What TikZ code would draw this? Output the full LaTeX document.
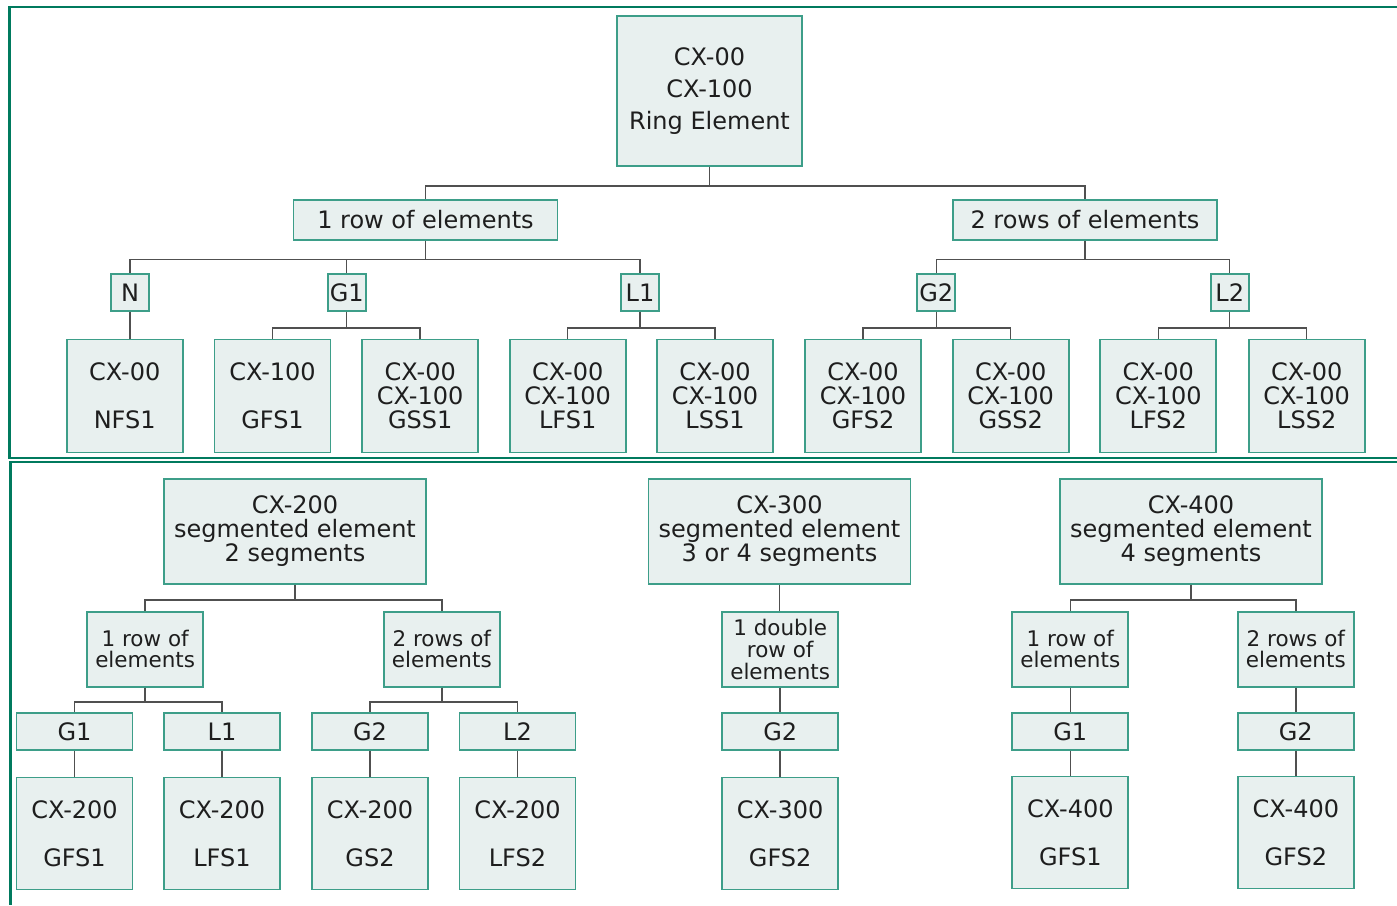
\documentclass[tikz,border=0pt]{standalone}
\usepackage{fontspec}
\setmainfont{DejaVu Sans}
\definecolor{framegreen}{HTML}{007A5E}
\definecolor{boxline}{HTML}{3D9E89}
\definecolor{boxfill}{HTML}{E8F0EF}
\definecolor{txt}{HTML}{1E1E1E}
\definecolor{conngray}{HTML}{505050}
\tikzset{
  box/.style={draw=boxline, fill=boxfill, line width=1.8pt, text=txt, align=center,
    inner sep=0pt, font=\fontsize{24}{24}\selectfont},
  smallbox/.style={box, font=\fontsize{21.5}{21}\selectfont},
  ringbox/.style={box, font=\fontsize{24}{32}\selectfont},
  cn/.style={draw=conngray, line width=1.5pt},
  frameline/.style={draw=framegreen, line width=2.5pt},
}
\newcommand{\bx}[7][box]{\node[#1, minimum width=#5pt, minimum height=#6pt] (#2) at (#3,#4) {#7};}
\newcommand{\fork}[3]{\foreach \c in {#3} {\draw[cn] (#1.south) -- (#1.south |- 0,#2) -| (\c.north);}}
\newcommand{\drop}[2]{\draw[cn] (#1.south) -- (#1.south |- #2.north);}
\begin{document}
\begin{tikzpicture}[x=1pt,y=-1pt]
\useasboundingbox (0,0) rectangle (1397,905);
% frame
\draw[frameline] (1397,7) -- (9.3,7) -- (9.3,459);
\draw[draw=framegreen, line width=2pt] (8.3,458.2) -- (1397,458.2);
\draw[draw=framegreen, line width=2pt] (9.3,461.7) -- (1397,461.7);
\draw[frameline] (10.3,461) -- (10.3,905);

% ---------- top section ----------
\bx[ringbox]{ring}{709.5}{91}{185}{150}{CX-00\\CX-100\\Ring Element}
\bx{rowA}{425.5}{220}{264}{40}{1 row of elements}
\bx{rowB}{1085}{220}{264}{40}{2 rows of elements}
\bx{tN}{130}{292.5}{38}{37}{N}
\bx{tGa}{346.7}{292.5}{38}{37}{G1}
\bx{tLa}{640}{292.5}{38}{37}{L1}
\bx{tGb}{936.3}{292.5}{38}{37}{G2}
\bx{tLb}{1229.7}{292.5}{38}{37}{L2}
\bx{lNFS}{124.7}{396}{116}{113}{CX-00\\[24pt]NFS1}
\bx{lGFSa}{272.5}{396}{116}{113}{CX-100\\[24pt]GFS1}
\bx{lGSSa}{420.2}{396}{116}{113}{CX-00\\CX-100\\GSS1}
\bx{lLFSa}{567.7}{396}{116}{113}{CX-00\\CX-100\\LFS1}
\bx{lLSSa}{715}{396}{116}{113}{CX-00\\CX-100\\LSS1}
\bx{lGFSb}{863}{396}{116}{113}{CX-00\\CX-100\\GFS2}
\bx{lGSSb}{1010.7}{396}{116}{113}{CX-00\\CX-100\\GSS2}
\bx{lLFSb}{1158.3}{396}{116}{113}{CX-00\\CX-100\\LFS2}
\bx{lLSSb}{1306.7}{396}{116}{113}{CX-00\\CX-100\\LSS2}

\fork{ring}{186}{rowA,rowB}
\fork{rowA}{259.5}{tN,tGa,tLa}
\fork{rowB}{259.5}{tGb,tLb}
\drop{tN}{lNFS}
\fork{tGa}{328}{lGFSa,lGSSa}
\fork{tLa}{328}{lLFSa,lLSSa}
\fork{tGb}{328}{lGFSb,lGSSb}
\fork{tLb}{328}{lLFSb,lLSSb}

% ---------- bottom section ----------
\bx{sA}{295}{531.5}{262}{105}{CX-200\\segmented element\\2 segments}
\bx{sB}{779.5}{531.5}{262}{105}{CX-300\\segmented element\\3 or 4 segments}
\bx{sC}{1191}{531.5}{262}{105}{CX-400\\segmented element\\4 segments}

\bx[smallbox]{aRow}{145.2}{649.3}{116}{75}{1 row of\\elements}
\bx[smallbox]{aRows}{441.8}{649.3}{116}{75}{2 rows of\\elements}
\bx[smallbox, font=\fontsize{21.5}{22}\selectfont]{bDbl}{780.2}{649.3}{116}{75}{1 double\\row of\\elements}
\bx[smallbox]{cRow}{1070.3}{649.3}{116}{75}{1 row of\\elements}
\bx[smallbox]{cRows}{1295.8}{649.3}{116}{75}{2 rows of\\elements}

\bx{aG1}{74.5}{731.5}{116}{37}{G1}
\bx{aL1}{222}{731.5}{116}{37}{L1}
\bx{aG2}{370}{731.5}{116}{37}{G2}
\bx{aL2}{517.5}{731.5}{116}{37}{L2}
\bx{bG2}{780.2}{731.5}{116}{37}{G2}
\bx{cG1}{1070.3}{731.5}{116}{37}{G1}
\bx{cG2}{1295.8}{731.5}{116}{37}{G2}

\bx{aGFS1}{74.5}{833.5}{116}{112}{CX-200\\[24pt]GFS1}
\bx{aLFS1}{222}{833.5}{116}{112}{CX-200\\[24pt]LFS1}
\bx{aGS2}{370}{833.5}{116}{112}{CX-200\\[24pt]GS2}
\bx{aLFS2}{517.5}{833.5}{116}{112}{CX-200\\[24pt]LFS2}
\bx{bGFS2}{780.2}{833.5}{116}{112}{CX-300\\[24pt]GFS2}
\bx{cGFS1}{1070.3}{832.5}{116}{112}{CX-400\\[24pt]GFS1}
\bx{cGFS2}{1295.8}{832.5}{116}{112}{CX-400\\[24pt]GFS2}

\fork{sA}{600}{aRow,aRows}
\fork{sC}{600}{cRow,cRows}
\drop{sB}{bDbl}
\fork{aRow}{702}{aG1,aL1}
\fork{aRows}{702}{aG2,aL2}
\drop{bDbl}{bG2}
\drop{cRow}{cG1}
\drop{cRows}{cG2}
\drop{aG1}{aGFS1}
\drop{aL1}{aLFS1}
\drop{aG2}{aGS2}
\drop{aL2}{aLFS2}
\drop{bG2}{bGFS2}
\drop{cG1}{cGFS1}
\drop{cG2}{cGFS2}
\end{tikzpicture}
\end{document}
